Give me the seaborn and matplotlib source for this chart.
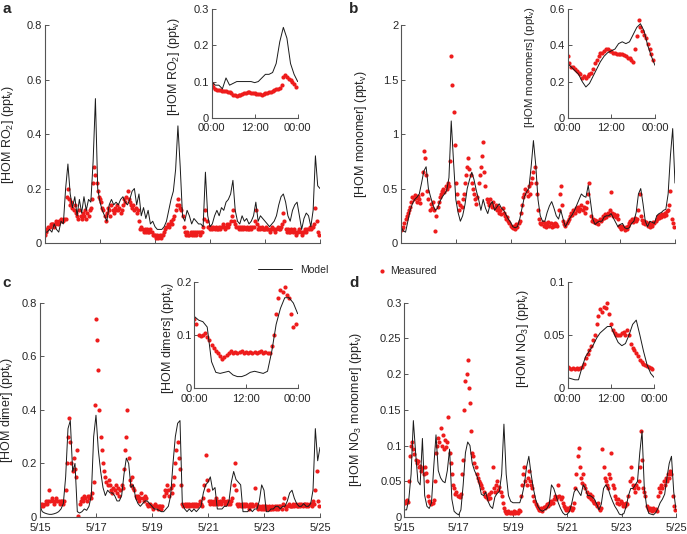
import numpy as np
import pandas as pd
import matplotlib
matplotlib.use('Agg')
import matplotlib.pyplot as plt
from matplotlib.ticker import FuncFormatter
import seaborn as sns

sns.set_style('ticks')
plt.rcParams['font.family'] = ['Liberation Sans', 'DejaVu Sans']
plt.rcParams['mathtext.default'] = 'regular'

# ---- time axes (days since 5/15 00:00, hours of day) ----
day_ticks = [0, 2, 4, 6, 8, 10]
day_labels = ['5/15', '5/17', '5/19', '5/21', '5/23', '5/25']
hour_ticks = [0, 12, 24]
hour_labels = ['00:00', '12:00', '00:00']

# ---- panel a : HOM RO2 ----
a_meas = [
    0.03,0.04,0.05,0.06,0.06,0.07,0.07,0.07,0.06,0.07,0.08,0.07,0.08,0.08,0.09,0.08,0.08,0.09,0.09,0.17,0.20,0.16,0.14,0.15,
    0.13,0.12,0.14,0.11,0.10,0.09,0.12,0.10,0.09,0.11,0.10,0.12,0.09,0.11,0.10,0.12,0.13,0.16,0.22,0.28,0.25,0.22,0.19,0.17,
    0.16,0.15,0.13,0.12,0.10,0.08,0.11,0.13,0.12,0.10,0.14,0.12,0.11,0.13,0.12,0.14,0.12,0.13,0.11,0.12,0.14,0.16,0.15,0.17,
    0.19,0.16,0.15,0.14,0.13,0.14,0.12,0.13,0.11,0.12,0.08,0.05,0.06,0.05,0.04,0.05,0.04,0.05,0.04,0.04,0.05,0.04,0.03,0.03,
    0.03,0.02,0.03,0.02,0.03,0.02,0.03,0.03,0.04,0.05,0.06,0.07,0.06,0.07,0.08,0.07,0.09,0.10,0.12,0.14,0.16,0.14,0.13,0.12,
    0.10,0.06,0.04,0.03,0.04,0.03,0.03,0.04,0.03,0.04,0.03,0.04,0.03,0.04,0.04,0.03,0.04,0.04,0.06,0.09,0.12,0.08,0.06,0.06,
    0.05,0.06,0.05,0.06,0.05,0.06,0.05,0.05,0.06,0.05,0.06,0.07,0.06,0.05,0.06,0.07,0.06,0.07,0.08,0.10,0.12,0.08,0.07,0.06,
    0.06,0.05,0.06,0.05,0.06,0.05,0.06,0.05,0.06,0.05,0.05,0.06,0.05,0.06,0.06,0.08,0.12,0.07,0.05,0.06,0.05,0.06,0.05,0.05,
    0.05,0.06,0.05,0.05,0.04,0.05,0.06,0.05,0.05,0.04,0.05,0.06,0.05,0.05,0.06,0.07,0.11,0.08,0.05,0.04,0.05,0.04,0.04,0.05,
    0.04,0.05,0.04,0.03,0.04,0.04,0.05,0.04,0.03,0.04,0.04,0.05,0.04,0.05,0.05,0.06,0.05,0.06,0.06,0.07,0.13,0.08,0.04,0.03]
a_model = [
    0.04,0.04,0.05,0.04,0.07,0.05,0.04,0.08,0.07,0.20,0.29,0.18,
    0.13,0.17,0.10,0.16,0.11,0.17,0.12,0.16,0.15,0.30,0.53,0.20,
    0.15,0.12,0.10,0.08,0.14,0.16,0.14,0.15,0.14,0.16,0.17,0.15,
    0.14,0.16,0.19,0.20,0.14,0.18,0.10,0.13,0.09,0.12,0.07,0.08,
    0.06,0.05,0.05,0.05,0.06,0.08,0.12,0.16,0.19,0.27,0.43,0.28,
    0.10,0.08,0.12,0.10,0.07,0.09,0.08,0.07,0.07,0.06,0.26,0.10,
    0.06,0.07,0.10,0.12,0.10,0.13,0.12,0.15,0.16,0.18,0.23,0.12,
    0.08,0.07,0.10,0.08,0.09,0.07,0.08,0.10,0.15,0.08,0.10,0.09,
    0.08,0.07,0.06,0.07,0.08,0.10,0.14,0.17,0.18,0.15,0.10,0.08,
    0.12,0.14,0.15,0.10,0.05,0.09,0.11,0.10,0.06,0.12,0.32,0.21,
    0.20]
a_in_meas = [0.092,0.085,0.080,0.078,0.077,0.076,0.075,0.074,0.073,0.071,0.070,0.068,
             0.064,0.062,0.060,0.062,0.064,0.066,0.068,0.069,0.070,0.070,0.069,0.068,
             0.067,0.066,0.065,0.065,0.064,0.066,0.067,0.068,0.070,0.072,0.074,0.078,
             0.080,0.079,0.082,0.090,0.112,0.118,0.112,0.108,0.104,0.098,0.092,0.086]
a_in_model = [0.10,0.09,0.09,0.08,0.11,0.09,0.095,0.10,0.10,0.10,0.10,0.10,0.097,
              0.10,0.11,0.12,0.12,0.125,0.15,0.21,0.25,0.22,0.15,0.12,0.10]

# ---- panel b : HOM monomer ----
b_meas = [
    0.12,0.13,0.15,0.18,0.22,0.25,0.28,0.30,0.33,0.38,0.42,0.40,0.44,0.41,0.38,0.43,0.40,0.37,0.45,0.65,0.84,0.78,0.62,0.48,
    0.40,0.30,0.36,0.32,0.38,0.30,0.11,0.25,0.33,0.38,0.42,0.45,0.48,0.50,0.47,0.52,0.50,0.55,0.52,0.75,1.72,1.45,1.20,0.90,
    0.55,0.45,0.38,0.30,0.35,0.33,0.40,0.45,0.55,0.62,0.70,0.78,0.68,0.62,0.55,0.50,0.45,0.40,0.36,0.42,0.55,0.62,0.70,0.80,
    0.93,0.65,0.52,0.40,0.38,0.35,0.40,0.36,0.33,0.38,0.32,0.35,0.30,0.33,0.28,0.30,0.27,0.32,0.28,0.25,0.22,0.24,0.20,0.18,
    0.16,0.15,0.14,0.16,0.13,0.17,0.15,0.18,0.20,0.28,0.35,0.42,0.45,0.50,0.48,0.43,0.52,0.45,0.55,0.60,0.65,0.70,0.55,0.45,
    0.30,0.22,0.18,0.17,0.19,0.16,0.18,0.15,0.17,0.19,0.16,0.18,0.15,0.17,0.16,0.18,0.17,0.16,0.30,0.45,0.52,0.35,0.20,0.17,
    0.16,0.18,0.20,0.22,0.25,0.28,0.26,0.30,0.28,0.32,0.30,0.33,0.29,0.31,0.35,0.30,0.33,0.28,0.32,0.38,0.45,0.55,0.25,0.20,
    0.22,0.19,0.21,0.18,0.20,0.17,0.22,0.20,0.22,0.25,0.23,0.27,0.24,0.28,0.26,0.30,0.47,0.28,0.25,0.27,0.24,0.26,0.22,0.16,
    0.15,0.13,0.16,0.14,0.12,0.15,0.13,0.16,0.18,0.20,0.22,0.19,0.21,0.23,0.20,0.22,0.30,0.45,0.25,0.21,0.18,0.20,0.17,0.19,
    0.16,0.18,0.15,0.17,0.16,0.19,0.18,0.20,0.22,0.25,0.23,0.26,0.24,0.27,0.25,0.28,0.26,0.29,0.30,0.35,0.48,0.22,0.18,0.15]
b_model = [
    0.15,0.11,0.10,0.20,0.30,0.36,0.40,0.42,0.45,0.55,0.66,0.70,
    0.50,0.42,0.35,0.30,0.32,0.38,0.42,0.45,0.48,0.60,1.12,0.75,
    0.40,0.28,0.20,0.25,0.35,0.50,0.58,0.65,0.58,0.48,0.40,0.30,
    0.40,0.32,0.27,0.35,0.38,0.30,0.33,0.36,0.32,0.30,0.26,0.22,
    0.19,0.15,0.14,0.15,0.22,0.32,0.42,0.47,0.50,0.70,0.94,0.72,
    0.40,0.25,0.20,0.20,0.28,0.34,0.38,0.32,0.25,0.22,0.30,0.22,
    0.15,0.19,0.23,0.26,0.30,0.35,0.40,0.45,0.43,0.42,0.53,0.38,
    0.22,0.17,0.19,0.20,0.20,0.24,0.25,0.25,0.27,0.23,0.19,0.15,
    0.17,0.18,0.14,0.13,0.14,0.18,0.20,0.28,0.45,0.50,0.36,0.20,
    0.15,0.20,0.19,0.18,0.25,0.27,0.28,0.30,0.31,0.45,0.80,1.05,
    0.55]
b_in_meas = [0.34,0.30,0.28,0.28,0.27,0.26,0.25,0.24,0.22,0.23,0.22,0.23,
             0.24,0.25,0.27,0.30,0.32,0.34,0.36,0.36,0.37,0.38,0.38,0.37,
             0.37,0.36,0.36,0.35,0.355,0.35,0.35,0.345,0.34,0.33,0.33,0.32,
             0.31,0.38,0.45,0.54,0.50,0.48,0.46,0.44,0.41,0.38,0.35,0.32]
b_in_model = [0.30,0.28,0.26,0.24,0.20,0.17,0.19,0.23,0.27,0.31,0.34,0.36,0.37,
              0.38,0.41,0.42,0.41,0.42,0.46,0.50,0.52,0.48,0.40,0.34,0.29]

# ---- panel c : HOM dimer ----
c_meas = [
    0.05,0.04,0.05,0.04,0.05,0.06,0.05,0.06,0.10,0.06,0.07,0.06,0.05,0.06,0.07,0.06,0.06,0.05,0.06,0.06,0.05,0.06,0.10,0.20,
    0.30,0.37,0.28,0.20,0.17,0.22,0.18,0.15,0.25,0.005,0.05,0.06,0.07,0.06,0.08,0.07,0.06,0.08,0.07,0.08,0.07,0.09,0.13,0.42,
    0.74,0.66,0.55,0.40,0.30,0.25,0.20,0.17,0.15,0.13,0.12,0.14,0.12,0.10,0.09,0.11,0.10,0.12,0.09,0.11,0.08,0.10,0.12,0.11,
    0.18,0.25,0.30,0.40,0.22,0.14,0.12,0.15,0.11,0.10,0.08,0.07,0.08,0.06,0.07,0.09,0.07,0.06,0.08,0.07,0.05,0.04,0.05,0.04,
    0.04,0.03,0.04,0.05,0.04,0.03,0.04,0.04,0.03,0.04,0.08,0.10,0.09,0.12,0.10,0.08,0.11,0.09,0.12,0.15,0.20,0.25,0.28,0.22,
    0.18,0.12,0.05,0.04,0.05,0.04,0.05,0.04,0.05,0.04,0.05,0.04,0.05,0.04,0.05,0.04,0.05,0.06,0.05,0.04,0.07,0.12,0.23,0.14,
    0.10,0.06,0.05,0.06,0.05,0.06,0.05,0.07,0.06,0.05,0.06,0.05,0.06,0.07,0.06,0.05,0.06,0.05,0.06,0.05,0.06,0.07,0.12,0.20,
    0.10,0.05,0.04,0.05,0.04,0.05,0.04,0.05,0.04,0.05,0.04,0.03,0.05,0.04,0.05,0.04,0.11,0.05,0.04,0.03,0.04,0.03,0.04,0.03,
    0.04,0.03,0.04,0.03,0.04,0.03,0.03,0.04,0.03,0.04,0.03,0.04,0.03,0.04,0.04,0.03,0.05,0.07,0.04,0.03,0.04,0.05,0.04,0.04,
    0.04,0.05,0.04,0.05,0.04,0.04,0.05,0.04,0.05,0.04,0.05,0.05,0.04,0.05,0.04,0.05,0.05,0.04,0.06,0.05,0.10,0.17,0.06,0.04]
c_model = [
    0.04,0.02,0.015,0.012,0.01,0.01,0.012,0.015,0.02,0.03,0.05,0.15,
    0.33,0.36,0.17,0.20,0.02,0.015,0.02,0.03,0.025,0.04,0.08,0.30,
    0.38,0.25,0.17,0.11,0.08,0.10,0.09,0.09,0.08,0.06,0.06,0.08,
    0.16,0.22,0.20,0.11,0.12,0.07,0.05,0.04,0.05,0.06,0.06,0.05,
    0.04,0.03,0.03,0.025,0.02,0.02,0.03,0.04,0.08,0.20,0.30,0.35,
    0.36,0.05,0.03,0.02,0.03,0.02,0.03,0.02,0.03,0.04,0.09,0.12,
    0.13,0.15,0.10,0.11,0.03,0.03,0.03,0.04,0.04,0.06,0.13,0.17,
    0.14,0.13,0.12,0.02,0.02,0.02,0.03,0.02,0.03,0.03,0.06,0.12,
    0.10,0.02,0.02,0.03,0.03,0.04,0.04,0.03,0.04,0.04,0.06,0.09,
    0.10,0.07,0.05,0.04,0.04,0.05,0.04,0.04,0.05,0.10,0.33,0.21,
    0.26]
c_in_meas = [0.130,0.120,0.100,0.098,0.100,0.104,0.096,0.090,0.082,0.076,0.070,0.066,
             0.060,0.055,0.058,0.062,0.066,0.070,0.067,0.069,0.066,0.068,0.070,0.067,
             0.069,0.066,0.068,0.067,0.069,0.066,0.068,0.070,0.066,0.068,0.067,0.066,
             0.080,0.100,0.140,0.170,0.185,0.180,0.190,0.175,0.170,0.140,0.115,0.120]
c_in_model = [0.135,0.128,0.125,0.115,0.05,0.030,0.028,0.030,0.032,0.025,0.022,0.022,0.025,
              0.030,0.032,0.030,0.028,0.032,0.07,0.12,0.15,0.17,0.17,0.16,0.14]

# ---- panel d : HOM NO3 monomer ----
d_meas = [
    0.022,0.020,0.024,0.021,0.050,0.085,0.100,0.105,0.095,0.088,0.080,0.075,0.078,0.070,0.072,0.065,0.068,0.060,0.070,0.062,0.050,0.030,0.022,0.020,
    0.018,0.020,0.024,0.050,0.090,0.100,0.110,0.105,0.125,0.100,0.115,0.095,0.108,0.098,0.105,0.140,0.090,0.075,0.060,0.045,0.040,0.032,0.035,0.030,
    0.030,0.028,0.032,0.060,0.080,0.150,0.190,0.200,0.220,0.180,0.160,0.120,0.090,0.085,0.075,0.070,0.060,0.055,0.050,0.048,0.045,0.040,0.035,0.030,
    0.028,0.030,0.025,0.032,0.027,0.035,0.070,0.040,0.035,0.045,0.050,0.038,0.042,0.035,0.030,0.020,0.012,0.008,0.006,0.005,0.008,0.006,0.007,0.005,
    0.006,0.008,0.005,0.007,0.006,0.010,0.008,0.030,0.045,0.060,0.070,0.050,0.045,0.055,0.065,0.050,0.045,0.040,0.030,0.022,0.018,0.015,0.012,0.010,
    0.010,0.012,0.008,0.014,0.012,0.015,0.018,0.015,0.020,0.018,0.022,0.020,0.025,0.030,0.025,0.028,0.045,0.030,0.025,0.028,0.020,0.015,0.012,0.010,
    0.012,0.010,0.014,0.012,0.010,0.013,0.020,0.040,0.060,0.085,0.096,0.070,0.055,0.048,0.060,0.045,0.040,0.035,0.030,0.028,0.032,0.025,0.030,0.022,
    0.020,0.018,0.015,0.020,0.012,0.010,0.012,0.095,0.070,0.055,0.050,0.045,0.040,0.060,0.055,0.090,0.045,0.040,0.030,0.025,0.020,0.025,0.018,0.022,
    0.020,0.015,0.018,0.016,0.020,0.018,0.030,0.050,0.070,0.055,0.045,0.040,0.035,0.045,0.040,0.050,0.070,0.120,0.080,0.040,0.035,0.030,0.015,0.012,
    0.010,0.012,0.010,0.008,0.012,0.010,0.011,0.009,0.030,0.040,0.035,0.045,0.040,0.050,0.045,0.055,0.050,0.060,0.055,0.065,0.060,0.030,0.015,0.010]
d_model = [
    0.01,0.01,0.025,0.06,0.135,0.09,0.05,0.045,0.11,0.03,0.015,0.012,
    0.02,0.07,0.115,0.065,0.055,0.05,0.048,0.065,0.095,0.025,0.008,0.005,
    0.003,0.01,0.045,0.09,0.105,0.10,0.075,0.065,0.058,0.048,0.032,0.03,
    0.035,0.022,0.015,0.012,0.028,0.033,0.036,0.06,0.13,0.06,0.03,0.022,
    0.02,0.02,0.02,0.02,0.03,0.045,0.07,0.085,0.06,0.04,0.025,0.015,
    0.01,0.008,0.01,0.012,0.018,0.045,0.04,0.03,0.02,0.012,0.006,0.003,
    0.004,0.008,0.02,0.035,0.04,0.035,0.03,0.045,0.04,0.03,0.03,0.028,
    0.025,0.018,0.01,0.018,0.04,0.045,0.04,0.03,0.022,0.015,0.01,0.004,
    0.003,0.005,0.015,0.03,0.04,0.04,0.045,0.05,0.09,0.12,0.04,0.015,
    0.005,0.004,0.003,0.006,0.012,0.02,0.025,0.032,0.055,0.075,0.085,0.035,
    0.01]
d_in_meas = [0.020,0.019,0.018,0.019,0.018,0.019,0.018,0.019,0.020,0.023,0.028,0.032,
             0.036,0.040,0.045,0.050,0.060,0.068,0.074,0.072,0.076,0.075,0.080,0.070,
             0.060,0.055,0.052,0.050,0.050,0.050,0.052,0.053,0.050,0.055,0.050,0.042,
             0.038,0.036,0.033,0.030,0.027,0.025,0.023,0.022,0.021,0.020,0.019,0.018]
d_in_model = [0.010,0.009,0.008,0.008,0.020,0.030,0.035,0.040,0.047,0.052,0.055,0.058,0.058,
              0.050,0.043,0.040,0.042,0.050,0.060,0.064,0.050,0.035,0.022,0.014,0.010]

RED = '#ee1c1c'
LINE = '#1a1a1a'
SPINE = '#555555'

fig = plt.figure(figsize=(6.87, 5.34), dpi=100)

panels = [
    # letter, letter xy, main rect, inset rect, data..., ylabel x (axes coords), inset ylabel x, inset label size
    ('a', (0.003, 0.997), [0.0655, 0.5449, 0.4003, 0.4082], [0.3081, 0.7796, 0.1252, 0.2030],
     a_meas, a_model, a_in_meas, a_in_model, 0.8, [0, 0.2, 0.4, 0.6, 0.8],
     r'[HOM RO$_2$] (ppt$_v$)', 0.3, [0, 0.1, 0.2, 0.3], r'[HOM RO$_2$] (ppt$_v$)', False,
     -0.107, -0.345, 9),
    ('b', (0.508, 0.997), [0.5837, 0.5449, 0.3988, 0.4082], [0.8263, 0.7796, 0.1271, 0.2030],
     b_meas, b_model, b_in_meas, b_in_model, 2.0, [0, 0.5, 1, 1.5, 2],
     r'[HOM monomer] (ppt$_v$)', 0.6, [0, 0.2, 0.4, 0.6], r'[HOM monomers] (ppt$_v$)', False,
     -0.115, -0.350, 8.2),
    ('c', (0.003, 0.483), [0.0582, 0.0318, 0.4076, 0.4013], [0.2828, 0.2728, 0.1505, 0.1996],
     c_meas, c_model, c_in_meas, c_in_model, 0.8, [0, 0.2, 0.4, 0.6, 0.8],
     r'[HOM dimer] (ppt$_v$)', 0.2, [0, 0.1, 0.2], r'[HOM dimers] (ppt$_v$)', True,
     -0.088, -0.172, 9),
    ('d', (0.508, 0.483), [0.5885, 0.0318, 0.3955, 0.4013], [0.8263, 0.2728, 0.1261, 0.1996],
     d_meas, d_model, d_in_meas, d_in_model, 0.3, [0, 0.05, 0.1, 0.15, 0.2, 0.25, 0.3],
     r'[HOM NO$_3$ monomer] (ppt$_v$)', 0.1, [0, 0.05, 0.1], r'[HOM NO$_3$] (ppt$_v$)', True,
     -0.147, -0.425, 9),
]

fmt = FuncFormatter(lambda v, pos: '%g' % v)


def style_axes(ax, xpad):
    sns.despine(ax=ax)
    for s in ['left', 'bottom']:
        ax.spines[s].set_color(SPINE)
        ax.spines[s].set_linewidth(0.8)
    ax.tick_params(direction='in', length=3, width=0.7, color=SPINE, labelsize=8)
    ax.tick_params(axis='y', pad=2)
    ax.tick_params(axis='x', pad=xpad)
    ax.yaxis.set_major_formatter(fmt)


handles = {}
for (letter, lxy, rect, irect, meas, model, in_meas, in_model, ymax, yticks,
     ylabel, iymax, iyticks, iylabel, xlab, ylx, iylx, ilsize) in panels:
    ax = fig.add_axes(rect)
    main_m = pd.DataFrame({'day': np.arange(len(meas)) / 24.0, 'val': meas})
    main_l = pd.DataFrame({'day': np.arange(len(model)) * 2 / 24.0, 'val': model})
    sns.lineplot(data=main_l, x='day', y='val', ax=ax, color=LINE, lw=0.7, legend=False)
    sns.scatterplot(data=main_m, x='day', y='val', ax=ax, color=RED, s=9,
                    linewidth=0, legend=False)
    handles.setdefault('line', ax.lines[-1])
    handles.setdefault('dots', ax.collections[-1])
    ax.set_xlim(0, 10)
    ax.set_ylim(0, ymax)
    ax.set_yticks(yticks)
    ax.set_xticks(day_ticks)
    if xlab:
        ax.set_xticklabels(day_labels)
    else:
        ax.set_xticklabels([])
    ax.set_xlabel('')
    ax.set_ylabel(ylabel, fontsize=9)
    ax.yaxis.set_label_coords(ylx, 0.5)
    style_axes(ax, 4.5)

    ins = fig.add_axes(irect)
    in_m = pd.DataFrame({'hour': np.arange(len(in_meas)) * 0.5, 'val': in_meas})
    in_l = pd.DataFrame({'hour': np.arange(len(in_model)), 'val': in_model})
    sns.lineplot(data=in_l, x='hour', y='val', ax=ins, color=LINE, lw=0.7, legend=False)
    sns.scatterplot(data=in_m, x='hour', y='val', ax=ins, color=RED, s=9,
                    linewidth=0, legend=False)
    ins.set_xlim(0, 24)
    ins.set_ylim(0, iymax)
    ins.set_yticks(iyticks)
    ins.set_xticks(hour_ticks)
    ins.set_xticklabels(hour_labels)
    ins.set_xlabel('')
    ins.set_ylabel(iylabel, fontsize=ilsize)
    ins.yaxis.set_label_coords(iylx, 0.47)
    style_axes(ins, 4)

    fig.text(lxy[0], lxy[1], letter, fontsize=11, fontweight='bold',
             va='top', ha='left')

fig.legend([handles['line']], ['Model'], loc='center left',
           bbox_to_anchor=(0.375, 1 - 270 / 534), frameon=False, fontsize=7.5,
           handlelength=3.3, handletextpad=0.8, borderpad=0, borderaxespad=0)
fig.legend([handles['dots']], ['Measured'], loc='center left',
           bbox_to_anchor=(0.548, 1 - 271 / 534), frameon=False, fontsize=7.5,
           handlelength=1.0, handletextpad=0.3, borderpad=0, borderaxespad=0,
           scatterpoints=1)

fig.savefig('out.png', dpi=100)
